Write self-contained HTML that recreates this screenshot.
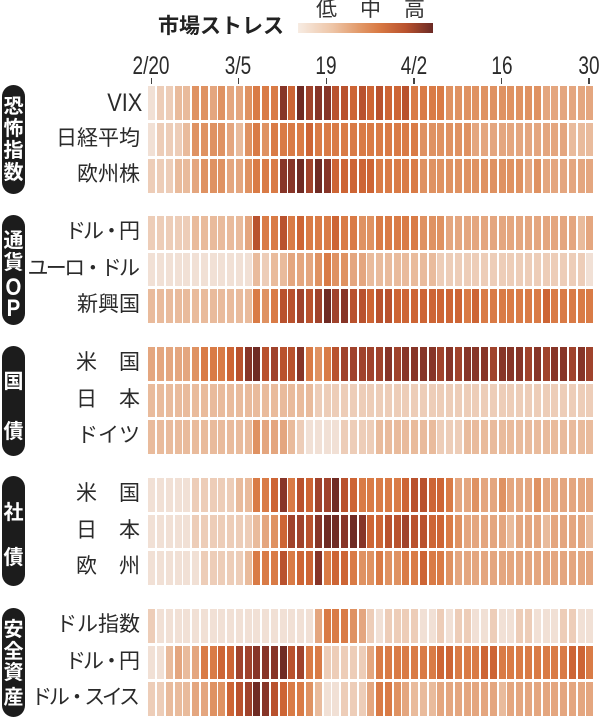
<!DOCTYPE html>
<html><head><meta charset="utf-8">
<style>
html,body{margin:0;padding:0;background:#fff;}
#c{position:relative;width:600px;height:718px;overflow:hidden;background:#fff;font-family:"Liberation Sans","Noto Sans CJK JP",sans-serif;color:#2a2a2a;}
.a{position:absolute;white-space:nowrap;line-height:1;}
.cell{position:absolute;width:7px;height:33.5px;}
.pill{position:absolute;left:2px;width:23px;background:#1c1c1c;border-radius:11.5px;}
.pc{position:absolute;left:2px;width:23px;text-align:center;color:#fff;font-weight:bold;font-size:20px;line-height:1;font-family:"Noto Sans CJK JP",sans-serif;}
.lab{position:absolute;font-size:21px;line-height:1;text-align:right;white-space:nowrap;font-family:"Liberation Sans","Noto Sans CJK JP",sans-serif;color:#2a2a2a;}
.dt{position:absolute;top:53.8px;font-size:25px;line-height:1;font-family:"Liberation Sans",sans-serif;color:#2a2a2a;transform:translateX(-50%) scaleX(.76);white-space:nowrap;}
.tk{position:absolute;top:78px;width:1.6px;height:6px;background:#444;}
</style></head>
<body><div id="c">
<div class="a" style="left:158px;top:14.8px;font-size:21px;font-weight:bold;font-family:'Noto Sans CJK JP',sans-serif;color:#222;">市場ストレス</div>
<div class="a" style="left:316px;top:-1.7px;font-size:21px;font-family:'Noto Sans CJK JP',sans-serif;color:#333;">低</div>
<div class="a" style="left:360px;top:-1.7px;font-size:21px;font-family:'Noto Sans CJK JP',sans-serif;color:#333;">中</div>
<div class="a" style="left:404px;top:-1.7px;font-size:21px;font-family:'Noto Sans CJK JP',sans-serif;color:#333;">高</div>
<div class="a" style="left:298px;top:23px;width:135px;height:10px;background:linear-gradient(to right,#f7ece3 0%,#eec6a8 25%,#e29a6a 45%,#d97a44 60%,#b9522e 80%,#6b2a25 100%);"></div>

<div class="dt" style="left:150.7px;">2/20</div>
<div class="dt" style="left:238px;">3/5</div>
<div class="dt" style="left:326px;">19</div>
<div class="dt" style="left:413.7px;">4/2</div>
<div class="dt" style="left:501.5px;">16</div>
<div class="dt" style="left:589px;">30</div>
<div class="tk" style="left:150.5px;"></div>
<div class="tk" style="left:237.8px;"></div>
<div class="tk" style="left:325.5px;"></div>
<div class="tk" style="left:413px;"></div>
<div class="tk" style="left:500.8px;"></div>
<div class="tk" style="left:588.4px;"></div>

<div class="pill" style="top:85px;height:109px;"></div>
<div class="pill" style="top:215px;height:110px;"></div>
<div class="pill" style="top:346px;height:110px;"></div>
<div class="pill" style="top:476px;height:110px;"></div>
<div class="pill" style="top:608px;height:109px;"></div>

<div class="pc" style="top:94.9px;">恐</div>
<div class="pc" style="top:116.9px;">怖</div>
<div class="pc" style="top:138.9px;">指</div>
<div class="pc" style="top:160.9px;">数</div>
<div class="pc" style="top:228.9px;">通</div>
<div class="pc" style="top:250.9px;">貨</div>
<div class="pc" style="top:275.8px;font-family:'Liberation Sans',sans-serif;font-size:24px;transform:scaleX(.85);">O</div>
<div class="pc" style="top:296.8px;font-family:'Liberation Sans',sans-serif;font-size:24px;transform:scaleX(.85);">P</div>
<div class="pc" style="top:369.9px;">国</div>
<div class="pc" style="top:419.9px;">債</div>
<div class="pc" style="top:500.9px;">社</div>
<div class="pc" style="top:545.9px;">債</div>
<div class="pc" style="top:617.9px;">安</div>
<div class="pc" style="top:639.9px;">全</div>
<div class="pc" style="top:661.4px;">資</div>
<div class="pc" style="top:685.9px;">産</div>

<div id="labels"></div>
<div id="grid"></div>
</div>
<script>
(function(){
var P=['#f5ebe5','#f1e0d5','#edcdb8','#e9bb9c','#e4a67f','#df9262','#d97b46','#cd6535','#b9522e','#a0432c','#873528','#6f2b24'];
var D=[
[1,2,2,3,3,5,5,4,5,4,4,5, 6,6,6,10,7,11,9,10,10,8,8,7,8,7, 8,7,7,8,6,6,6,6,5,5,5,5,5,5,5,5,5,5,5,4,4,4,4,4,4],
[1,2,2,2,3,5,5,5,5,4,3,5, 6,5,6,6,6,6,7,6,6,6,6,6,6,6, 6,6,6,6,6,5,5,5,5,5,5,4,4,4,4,4,4,4,4,4,4,4,3,3,3],
[2,2,2,3,3,4,5,5,5,4,4,5, 6,6,6,10,10,11,9,11,10,7,7,7,7,7, 6,6,6,6,6,5,5,5,5,5,5,5,5,5,5,5,5,4,5,4,4,4,4,4,4],
[2,2,2,2,2,3,3,3,3,3,3,4, 8,6,6,8,6,7,6,6,6,7,6,6,5,5, 6,6,6,6,6,5,5,5,4,4,4,4,4,4,4,4,4,4,4,4,4,4,4,3,4],
[1,1,1,1,1,1,1,1,1,1,1,1, 3,2,3,3,4,4,4,5,6,5,5,4,4,3, 3,3,3,3,3,3,3,2,2,2,2,2,2,2,2,2,2,2,2,2,2,2,2,2,1],
[3,3,3,3,3,3,3,3,3,3,3,3, 6,5,6,8,8,9,8,9,11,9,10,8,8,7, 8,8,7,7,7,7,7,7,7,7,6,7,6,6,6,6,6,6,6,7,6,6,6,6,6],
[4,4,4,4,4,5,6,6,6,7,8,10, 11,8,9,8,8,10,6,5,6,8,9,9,9,9, 9,10,9,10,10,10,10,9,10,9,10,10,10,9,10,10,10,9,10,9,10,10,9,10,9],
[3,3,3,3,3,3,3,3,3,3,3,3, 3,3,3,3,3,3,3,2,2,2,2,2,2,2, 2,2,2,2,2,2,2,2,2,2,2,2,2,2,2,2,2,2,2,2,2,2,2,2,2],
[3,3,3,3,3,3,3,3,3,3,3,3, 5,4,4,4,3,2,1,1,1,1,2,2,2,2, 3,3,3,3,3,3,3,2,2,2,3,3,3,3,3,3,3,3,3,3,3,3,3,3,3],
[1,1,1,1,1,2,2,2,2,2,3,3, 6,6,7,10,6,8,7,9,9,11,8,7,6,6, 6,6,6,7,8,8,7,7,6,4,4,5,4,4,5,4,4,4,5,4,4,4,4,4,4],
[1,1,1,1,1,2,2,2,2,2,2,2, 3,4,5,7,9,9,8,10,11,11,10,11,10,7, 7,8,8,9,8,8,7,7,6,5,4,4,4,4,4,3,4,4,4,3,4,4,4,4,3],
[1,1,1,1,1,1,2,2,2,2,2,3, 6,6,6,8,6,7,7,10,6,7,7,6,5,5, 6,5,5,6,6,7,6,6,5,4,4,4,4,4,4,4,4,4,4,4,4,4,4,4,4],
[2,1,1,1,1,1,1,1,1,1,1,1, 1,1,1,1,1,1,1,4,6,6,6,5,4,2, 1,2,2,2,2,1,1,2,1,2,2,1,1,2,1,1,2,2,1,1,1,2,2,1,1],
[1,1,3,4,3,4,6,6,7,7,9,9, 10,10,10,11,8,9,6,6,2,2,2,2,2,4, 6,6,6,6,6,6,6,7,7,6,6,6,7,7,6,6,6,6,6,6,6,6,7,7,6],
[2,2,3,3,3,4,4,5,5,7,8,9, 11,10,8,7,6,6,5,3,1,1,2,2,2,4, 6,6,5,4,3,3,3,4,4,4,4,4,4,4,3,4,4,4,4,4,4,4,4,4,4]
];
var G=[86,216.3,347,478.3,609.3], R=[0,36.6,73];
var L=[
['VIX',0],['日経平均',0],['欧州株',0],
['ドル・円',-3],['ユーロ・ドル',-2.7],['新興国',0],
['米　国',0.5],['日　本',0.5],['ドイツ',0],
['米　国',0.5],['日　本',0.5],['欧　州',0.5],
['ドル指数',0],['ドル・円',-3],['ドル・スイス',-3.3]
];
var g=document.getElementById('grid'), lb=document.getElementById('labels');
var h='', hl='';
for(var i=0;i<15;i++){
  var top=G[Math.floor(i/3)]+R[i%3];
  var row=D[i];
  for(var c=0;c<51;c++){
    var x=148.3+8.76*c;
    h+='<div class="cell" style="left:'+x.toFixed(2)+'px;top:'+top.toFixed(2)+'px;background:'+P[row[c]]+'"></div>';
  }
  var cy=top+16.75;
  if(i===0){
    hl+='<div class="lab" style="right:458px;top:'+(112-21.2).toFixed(2)+'px;font-size:25px;transform:scaleX(.87);transform-origin:right center;">VIX</div>';
  } else {
    var ls=L[i][1];
    hl+='<div class="lab" style="right:'+(460-ls).toFixed(2)+'px;top:'+(cy-11.7).toFixed(2)+'px;letter-spacing:'+ls+'px;">'+L[i][0]+'</div>';
  }
}
g.innerHTML=h; lb.innerHTML=hl;
})();
</script>
</body></html>
